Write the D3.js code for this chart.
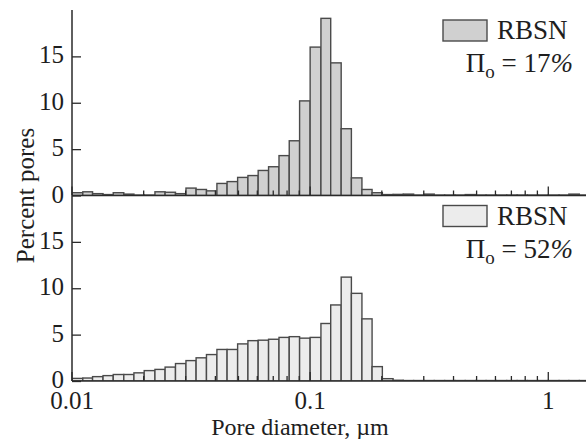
<!DOCTYPE html>
<html>
<head>
<meta charset="utf-8">
<script src="https://cdn.jsdelivr.net/npm/d3@7"></script>
<style>
  body { margin: 0; background: #fff; }
  svg { display: block; }
  .bar { stroke: #4a4a4a; stroke-width: 1.4; }
  .axis-line { stroke: #2a2a2a; stroke-width: 1.5; fill: none; }
  .tick-mark { stroke: #2a2a2a; stroke-width: 1.3; }
</style>
</head>
<body>
<div id="wrapper"></div>
<script>
// Pore-diameter bin edges, µm (log-spaced histogram bins)
const binEdges = [
  0.0100, 0.0111, 0.0122, 0.0135, 0.0149, 0.0165, 0.0182, 0.0201, 0.0223, 0.0246,
  0.0272, 0.0301, 0.0332, 0.0367, 0.0406, 0.0448, 0.0496, 0.0548, 0.0605, 0.0669,
  0.0740, 0.0817, 0.0903, 0.100, 0.111, 0.122, 0.135, 0.149, 0.165, 0.182,
  0.201, 0.223, 0.246, 0.272, 0.301, 0.332, 0.367, 0.406, 0.448, 0.496,
  0.548, 0.605, 0.669, 0.740, 0.817, 0.903, 1.00, 1.11, 1.22, 1.35, 1.49
];

// Percent pores per bin, RBSN with porosity 17%
const pores17 = [
  0.3, 0.4, 0.2, 0.1, 0.3, 0.15, 0.05, 0.05, 0.4, 0.35,
  0.2, 0.8, 0.65, 0.5, 1.3, 1.5, 1.95, 2.15, 2.7, 3.1,
  4.3, 5.9, 10.2, 16.0, 19.1, 14.3, 7.2, 1.9, 0.65, 0.3,
  0.1, 0.12, 0.15, 0.05, 0.15, 0.05, 0.05, 0.05, 0.1, 0.05,
  0.05, 0.05, 0.05, 0.05, 0.05, 0.05, 0.05, 0.05, 0.15, 0.05
];

// Percent pores per bin, RBSN with porosity 52%
const pores52 = [
  0.28, 0.32, 0.47, 0.58, 0.7, 0.7, 0.88, 1.12, 1.25, 1.5,
  1.88, 2.2, 2.5, 2.85, 3.4, 3.4, 4.0, 4.35, 4.4, 4.5,
  4.7, 4.78, 4.62, 4.7, 6.2, 8.2, 11.2, 9.45, 6.7, 1.55,
  0.25, 0.08, 0.05, 0.05, 0.05, 0.05, 0.05, 0.05, 0.05, 0.05,
  0.05, 0.05, 0.05, 0.05, 0.05, 0.05, 0.05, 0.05, 0.05, 0.05
];

const yTicks = [0, 5, 10, 15];
const xTickLabels = [0.01, 0.1, 1];
const panelLabels = ["17", "52"];

function drawChart() {
  const FONT = "'Liberation Serif'";
  const dimensions = {
    width: 586,
    height: 439,
    margin: { top: 10, right: 0, bottom: 58, left: 72 },
  };
  dimensions.boundedWidth = dimensions.width - dimensions.margin.left - dimensions.margin.right;
  dimensions.boundedHeight = dimensions.height - dimensions.margin.top - dimensions.margin.bottom;
  const panelHeight = dimensions.boundedHeight / 2;

  const svg = d3.select("#wrapper")
    .append("svg")
      .attr("width", dimensions.width)
      .attr("height", dimensions.height);

  const bounds = svg.append("g")
    .attr("transform", `translate(${dimensions.margin.left}, ${dimensions.margin.top})`);

  // shared log x scale, 0.01 .. ~1.45 µm
  const xScale = d3.scaleLog()
    .domain([0.01, 1.44])
    .range([0, dimensions.boundedWidth]);

  const xMinor = [];
  [0.01, 0.1, 1].forEach(dec => {
    for (let m = 1; m < 10; m++) {
      const v = dec * m;
      if (v <= 1.44) xMinor.push({ v, major: m === 1 });
    }
  });

  const panels = [
    { values: pores17, fill: "#d0d0d0", label: panelLabels[0] },
    { values: pores52, fill: "#ececec", label: panelLabels[1] },
  ];

  panels.forEach((panel, i) => {
    const g = bounds.append("g")
      .attr("transform", `translate(0, ${i * panelHeight})`);

    const yScale = d3.scaleLinear()
      .domain([0, 20])
      .range([panelHeight, 0]);

    g.append("defs").append("clipPath")
        .attr("id", `clip-${i}`)
      .append("rect")
        .attr("x", 0)
        .attr("y", -2)
        .attr("width", dimensions.boundedWidth)
        .attr("height", panelHeight + 2);

    // bars
    g.append("g")
        .attr("clip-path", `url(#clip-${i})`)
      .selectAll("rect")
      .data(panel.values)
      .join("rect")
        .attr("class", "bar")
        .attr("fill", panel.fill)
        .attr("x", (d, k) => xScale(binEdges[k]))
        .attr("width", (d, k) => xScale(binEdges[k + 1]) - xScale(binEdges[k]))
        .attr("y", d => yScale(d))
        .attr("height", d => yScale(0) - yScale(d));

    // x ticks pointing up from baseline
    g.append("g")
      .selectAll("line")
      .data(xMinor)
      .join("line")
        .attr("class", "tick-mark")
        .attr("x1", d => xScale(d.v))
        .attr("x2", d => xScale(d.v))
        .attr("y1", panelHeight)
        .attr("y2", d => panelHeight - (d.major ? 9 : 5));

    // axes
    g.append("line")
      .attr("class", "axis-line")
      .attr("x1", 0).attr("x2", dimensions.boundedWidth)
      .attr("y1", panelHeight).attr("y2", panelHeight);
    g.append("line")
      .attr("class", "axis-line")
      .attr("x1", 0).attr("x2", 0)
      .attr("y1", 0).attr("y2", panelHeight);

    const yAxisGenerator = d3.axisRight(yScale)
      .tickValues(yTicks)
      .tickSize(9)
      .tickFormat("");
    const yAxis = g.append("g").call(yAxisGenerator);
    yAxis.select(".domain").remove();
    yAxis.selectAll(".tick line").attr("stroke", "#2a2a2a").attr("stroke-width", 1.3);

    g.selectAll(".y-label")
      .data(yTicks)
      .join("text")
        .attr("class", "y-label")
        .attr("x", -8)
        .attr("y", d => yScale(d) + 7)
        .attr("text-anchor", "end")
        .style("font-family", FONT)
        .style("font-size", "25px")
        .attr("fill", "#1e1e1e")
        .text(d => d);

    // legend
    const legend = g.append("g")
      .attr("transform", `translate(${dimensions.boundedWidth}, 0)`);
    legend.append("rect")
      .attr("x", -143)
      .attr("y", 10)
      .attr("width", 44)
      .attr("height", 21)
      .attr("fill", panel.fill)
      .attr("stroke", "#4a4a4a")
      .attr("stroke-width", 1.4);
    legend.append("text")
      .attr("x", -89)
      .attr("y", 29)
      .style("font-family", FONT)
      .style("font-size", "27px")
      .attr("fill", "#1e1e1e")
      .text("RBSN");
    const pi = legend.append("text")
      .attr("x", -13)
      .attr("y", 62)
      .attr("text-anchor", "end")
      .style("font-family", FONT)
      .style("font-size", "27px")
      .attr("fill", "#1e1e1e");
    pi.append("tspan").text("Π");
    pi.append("tspan")
      .attr("dy", 6)
      .style("font-size", "19px")
      .text("o");
    pi.append("tspan")
      .attr("dy", -6)
      .text(" = " + panel.label);
    pi.append("tspan")
      .style("font-style", "italic")
      .text("%");
  });

  // x tick labels under the lower panel
  bounds.selectAll(".x-label")
    .data(xTickLabels)
    .join("text")
      .attr("class", "x-label")
      .attr("x", d => xScale(d))
      .attr("y", dimensions.boundedHeight + 28)
      .attr("text-anchor", "middle")
      .style("font-family", FONT)
      .style("font-size", "25px")
      .attr("fill", "#1e1e1e")
      .text(d => d);

  svg.append("text")
    .attr("x", 300)
    .attr("y", 435)
    .attr("text-anchor", "middle")
    .style("font-family", FONT)
    .style("font-size", "24px")
    .attr("fill", "#1e1e1e")
    .text("Pore diameter, µm");

  svg.append("text")
    .attr("transform", `translate(34, ${dimensions.margin.top + panelHeight}) rotate(-90)`)
    .attr("text-anchor", "middle")
    .style("font-family", FONT)
    .style("font-size", "25px")
    .attr("fill", "#1e1e1e")
    .text("Percent pores");
}
drawChart();
</script>
</body>
</html>
